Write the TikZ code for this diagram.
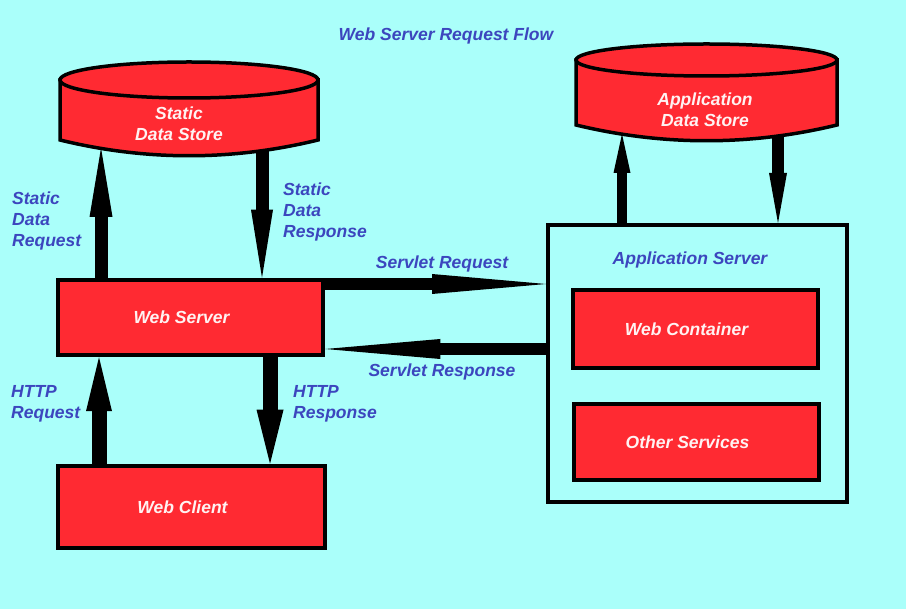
\documentclass[tikz,border=0pt]{standalone}
\usepackage{fontspec}
\setmainfont{Liberation Sans}
\usetikzlibrary{arrows.meta}

\definecolor{sky}{RGB}{170,255,250}
\definecolor{boxred}{RGB}{255,42,50}
\definecolor{txtblue}{RGB}{60,70,190}
\definecolor{txtwhite}{RGB}{255,242,242}
\newcommand{\diafont}{\fontsize{17.5}{21}\selectfont\bfseries\itshape}

\begin{document}
\begin{tikzpicture}[x=1pt,y=-1pt,
  box/.style={draw=black,fill=boxred,line width=4.5pt,text=txtwhite,font=\diafont,
    execute at begin node=\hspace*{-18pt}},
  lbl/.style={text=txtblue,font=\diafont,inner sep=0pt,align=left},
  store/.style={draw=black,fill=boxred,line width=3.5pt},
  fat/.style n args={3}{draw=black,line width=#1,-{Triangle[length=#2,width=#3,line width=0pt]}}]
\useasboundingbox (0,0) rectangle (906,609);
\fill[sky] (0,0) rectangle (906,609);
% data stores
\filldraw[store] (60,80) -- (60,140) .. controls (146,161) and (232,161) .. (318,140) -- (318,80) -- cycle;
\filldraw[store] (189,80) ellipse [x radius=129pt, y radius=18pt];
\node[text=txtwhite,font=\diafont,align=center] (sds) at (179,124) {Static\\Data Store};
\filldraw[store] (576,60) -- (576,125) .. controls (663,146) and (750,146) .. (837,125) -- (837,60) -- cycle;
\filldraw[store] (706.5,60) ellipse [x radius=130.5pt, y radius=16pt];
\node[text=txtwhite,font=\diafont,align=center] (ads) at (705,110) {Application\\Data Store};
\coordinate (sreq) at (101,148);
\coordinate (sresp) at (262,150);
\coordinate (areq) at (622,134);
\coordinate (aresp) at (778,135);
% boxes
\node[box,minimum width=265pt,minimum height=75pt] (ws) at (190.5,317.5) {Web Server};
\node[box,minimum width=267pt,minimum height=82pt] (wc) at (191.5,507) {Web Client};
\node[draw=black,line width=4pt,minimum width=299pt,minimum height=277pt] (as) at (697.5,363.5) {};
\node[lbl] (ast) at (690,260) {Application Server};
\node[box,minimum width=245pt,minimum height=78pt] (cont) at (695.5,329) {Web Container};
\node[box,minimum width=245pt,minimum height=76pt] (oth) at (696.5,442) {Other Services};
% arrows
\draw[fat={13pt}{69pt}{23pt}] (ws.north -| sreq) -- (sreq);
\draw[fat={13pt}{68pt}{22pt}] (sresp) -- (ws.north -| sresp);
\draw[fat={15pt}{54pt}{26pt}] (wc.north -| 99,0) -- (ws.south -| 99,0);
\draw[fat={15pt}{54pt}{27pt}] (ws.south -| 270,0) -- (wc.north -| 270,0);
\draw[fat={12pt}{114pt}{20pt}] (ws.east |- 0,284) -- (as.west |- 0,284);
\draw[fat={12pt}{115pt}{20pt}] (as.west |- 0,349) -- (ws.east |- 0,349);
\draw[fat={10pt}{39pt}{17pt}] (as.north -| areq) -- (areq);
\draw[fat={12pt}{50pt}{18pt}] (aresp) -- (as.north -| aresp);
% labels
\node[lbl] (title) at (446,36) {Web Server Request Flow};
\node[lbl,anchor=west] (sreqlbl) at (12,221) {Static\\Data\\Request};
\node[lbl,anchor=west] (sresplbl) at (283,212) {Static\\Data\\Response};
\node[lbl,anchor=west] (hreqlbl) at (11,403.5) {HTTP\\Request};
\node[lbl,anchor=west] (hresplbl) at (293,403.5) {HTTP\\Response};
\node[lbl] (svreqlbl) at (442,264) {Servlet Request};
\node[lbl] (svresplbl) at (442,372) {Servlet Response};
\end{tikzpicture}
\end{document}
